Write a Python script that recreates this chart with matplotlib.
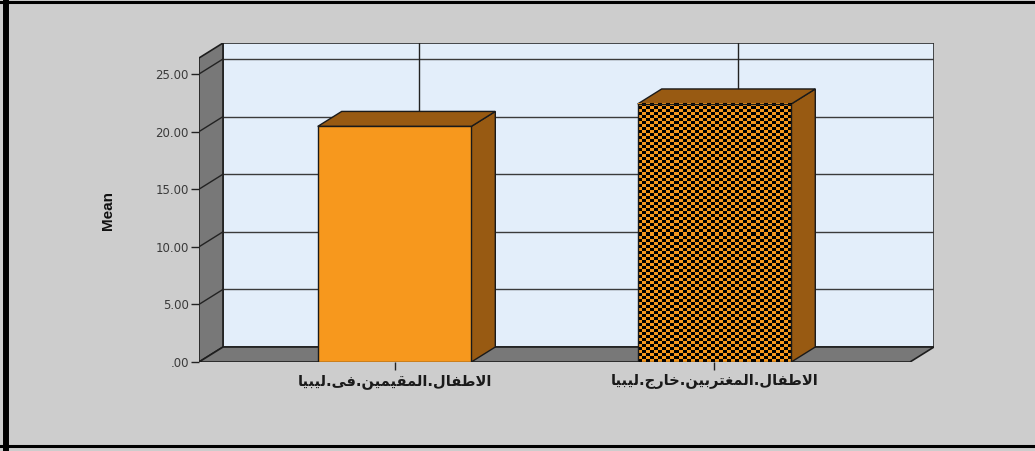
import numpy as np
import matplotlib
matplotlib.use('Agg')
import matplotlib.pyplot as plt
from matplotlib.patches import Polygon, Rectangle
from matplotlib.colors import ListedColormap
from matplotlib.lines import Line2D

# data
categories = ['الاطفال.المقيمين.فى.ليبيا', 'الاطفال.المغتربين.خارج.ليبيا']
means = [20.45, 22.40]
yticks = [0, 5, 10, 15, 20, 25]
ytick_labels = ['.00', '5.00', '10.00', '15.00', '20.00', '25.00']

# arabic presentation forms: isolated, final, initial, medial
FORMS = {
    'ا': ('\uFE8D', '\uFE8E', None, None),
    'ب': ('\uFE8F', '\uFE90', '\uFE91', '\uFE92'),
    'ت': ('\uFE95', '\uFE96', '\uFE97', '\uFE98'),
    'ج': ('\uFE9D', '\uFE9E', '\uFE9F', '\uFEA0'),
    'خ': ('\uFEA5', '\uFEA6', '\uFEA7', '\uFEA8'),
    'ر': ('\uFEAD', '\uFEAE', None, None),
    'ط': ('\uFEC1', '\uFEC2', '\uFEC3', '\uFEC4'),
    'غ': ('\uFECD', '\uFECE', '\uFECF', '\uFED0'),
    'ف': ('\uFED1', '\uFED2', '\uFED3', '\uFED4'),
    'ق': ('\uFED5', '\uFED6', '\uFED7', '\uFED8'),
    'ل': ('\uFEDD', '\uFEDE', '\uFEDF', '\uFEE0'),
    'م': ('\uFEE1', '\uFEE2', '\uFEE3', '\uFEE4'),
    'ن': ('\uFEE5', '\uFEE6', '\uFEE7', '\uFEE8'),
    'ى': ('\uFEEF', '\uFEF0', None, None),
    'ي': ('\uFEF1', '\uFEF2', '\uFEF3', '\uFEF4'),
    'لا': ('\uFEFB', '\uFEFC', None, None),
}


def shape(s):
    # matplotlib has no arabic shaping, so pick the joined forms by hand
    toks = []
    i = 0
    while i < len(s):
        if s[i] == 'ل' and i + 1 < len(s) and s[i + 1] == 'ا':
            toks.append('لا')
            i += 2
        else:
            toks.append(s[i])
            i += 1
    out = []
    for i, t in enumerate(toks):
        if t not in FORMS:
            out.append(t)
            continue
        f = FORMS[t]
        prev = toks[i - 1] if i > 0 else None
        nxt = toks[i + 1] if i + 1 < len(toks) else None
        jp = prev in FORMS and FORMS[prev][2] is not None
        jn = f[2] is not None and nxt in FORMS
        if jp and jn:
            out.append(f[3])
        elif jp:
            out.append(f[1])
        elif jn:
            out.append(f[2])
        else:
            out.append(f[0])
    return ''.join(out[::-1])


bg = '#cdcdcd'
orange = '#f7981d'
brown = '#985a12'
wall = '#e3eefa'
gray = '#787878'

fig = plt.figure(figsize=(10.35, 4.51), dpi=100)
fig.patch.set_facecolor(bg)
ax = fig.add_axes([199 / 1035, 89 / 451, 735 / 1035, 319 / 451])
ax.set_facecolor('none')
for s in ax.spines.values():
    s.set_visible(False)

x = np.arange(len(categories))
w = 0.48
xl, xr = -0.611, 1.611
ymax = 26.39
dx, dy = 0.075, 1.302

# back wall + grid
ax.add_patch(Rectangle((xl + dx, dy), xr - xl, ymax, fc=wall, ec='#2a2a2a', lw=1.2, zorder=1))
for t in yticks[1:]:
    ax.plot([xl + dx, xr + dx], [t + dy, t + dy], color='#3a3a3a', lw=1, zorder=2)
for xi in x:
    ax.plot([xi + dx, xi + dx], [dy, ymax + dy], color='#222222', lw=1, zorder=2)

# left wall and floor
ax.add_patch(Polygon([(xl, 0), (xl, ymax), (xl + dx, ymax + dy), (xl + dx, dy)],
                     closed=True, fc=gray, ec='#1e1e1e', lw=1.2, zorder=3))
ax.add_patch(Polygon([(xl, 0), (xr, 0), (xr + dx, dy), (xl + dx, dy)],
                     closed=True, fc=gray, ec='#1e1e1e', lw=1.2, zorder=3))
for t in yticks[1:]:
    ax.plot([xl, xl + dx], [t, t + dy], color='#222222', lw=1, zorder=4)

# bars: side + top faces
for xi, v in zip(x, means):
    ax.add_patch(Polygon([(xi + w / 2, 0), (xi + w / 2, v), (xi + w / 2 + dx, v + dy), (xi + w / 2 + dx, dy)],
                         closed=True, fc=brown, ec='#1a1a1a', lw=1, zorder=5))
    ax.add_patch(Polygon([(xi - w / 2, v), (xi + w / 2, v), (xi + w / 2 + dx, v + dy), (xi - w / 2 + dx, v + dy)],
                         closed=True, fc=brown, ec='#1a1a1a', lw=1, zorder=5))

# checker fill for the second bar
ncol = 38
nrow = int(round(means[1] * 11.52 / 3))
ii, jj = np.indices((nrow, ncol))
checker = (ii + jj) % 2
ax.imshow(checker, cmap=ListedColormap([orange, '#000000']), interpolation='nearest',
          extent=(x[1] - w / 2, x[1] + w / 2, 0, means[1]), aspect='auto', zorder=6)

ax.bar(x, means, w, color=[orange, 'none'], edgecolor='#1a1a1a', lw=1, zorder=7)

ax.set_xlim(xl, xr + dx)
ax.set_ylim(0, ymax + dy)

ax.set_yticks(yticks)
ax.set_yticklabels(ytick_labels, fontsize=8.5, color='#3a3a3a', family='DejaVu Sans')
ax.set_xticks(x)
ax.set_xticklabels([shape(c) for c in categories], fontsize=10.5, fontweight='bold',
                   color='#1a1a1a', family='DejaVu Sans')
ax.tick_params(axis='y', length=5.8, width=1, color='#222222', pad=1.5)
ax.tick_params(axis='x', length=5.8, width=1, color='#222222', pad=3)

fig.text(108 / 1035, 1 - 211 / 451, 'Mean', rotation=90, ha='center', va='center',
         fontsize=11, fontweight='bold', family=['Liberation Sans Narrow', 'Liberation Sans'],
         color='#111111')

# outer frame
fig.add_artist(Line2D([5.5 / 1035, 5.5 / 1035], [0.5 / 451, 451 / 451], transform=fig.transFigure,
                      color='black', lw=4.3))
fig.add_artist(Line2D([0, 1], [1 - 1.5 / 451, 1 - 1.5 / 451], transform=fig.transFigure,
                      color='black', lw=2.2))
fig.add_artist(Line2D([0, 1], [1 - 446 / 451, 1 - 446 / 451], transform=fig.transFigure,
                      color='black', lw=2.2))

fig.savefig('out.png', dpi=100, facecolor=bg)
